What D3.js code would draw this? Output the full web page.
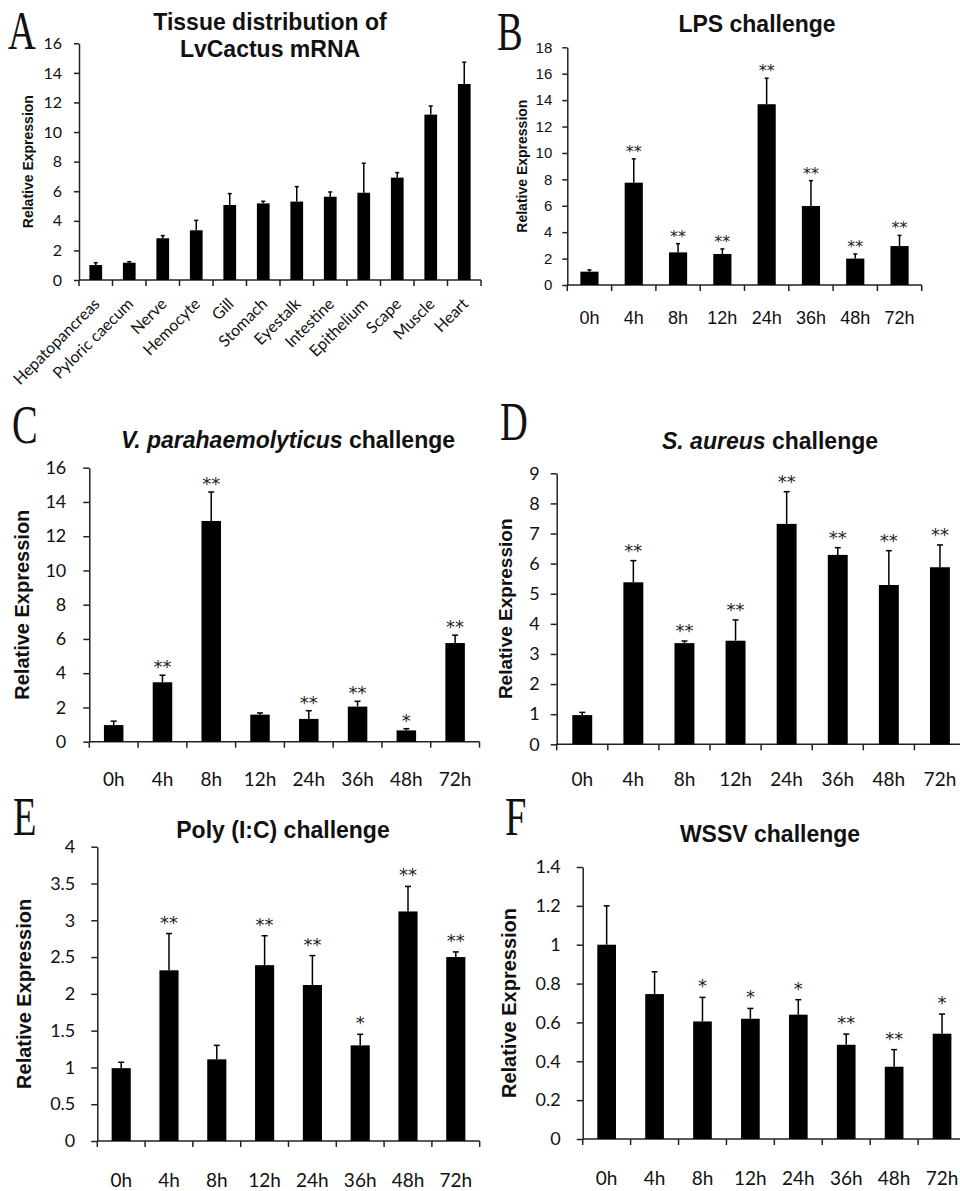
<!DOCTYPE html>
<html>
<head>
<meta charset="utf-8">
<script src="https://cdn.jsdelivr.net/npm/d3@7"></script>
<style>
  body { margin: 0; background: #fff; }
  svg { display: block; }
</style>
</head>
<body>
<script>
// values
const tissues = ["Hepatopancreas","Pyloric caecum","Nerve","Hemocyte","Gill","Stomach","Eyestalk","Intestine","Epithelium","Scape","Muscle","Heart"];
const tissueMean = [1.01,1.17,2.82,3.36,5.07,5.18,5.30,5.63,5.90,6.92,11.18,13.25];
const tissueErr  = [0.16,0.07,0.18,0.67,0.77,0.14,1.01,0.32,1.99,0.34,0.58,1.47];

const hours = ["0h","4h","8h","12h","24h","36h","48h","72h"];

const lpsMean  = [1.01,7.75,2.47,2.35,13.69,5.98,2.00,2.95];
const lpsErr   = [0.13,1.80,0.66,0.38,1.97,1.92,0.35,0.81];
const lpsStars = ["","**","**","**","**","**","**","**"];

const vpMean  = [0.97,3.47,12.89,1.58,1.33,2.05,0.66,5.76];
const vpErr   = [0.23,0.41,1.69,0.10,0.48,0.31,0.10,0.46];
const vpStars = ["","**","**","","**","**","*","**"];

const saMean  = [0.97,5.38,3.36,3.44,7.32,6.29,5.29,5.88];
const saErr   = [0.09,0.72,0.07,0.69,1.07,0.24,1.14,0.74];
const saStars = ["","**","**","**","**","**","**","**"];

const polyMean  = [0.99,2.32,1.11,2.39,2.12,1.30,3.12,2.50];
const polyErr   = [0.08,0.50,0.19,0.40,0.40,0.15,0.34,0.07];
const polyStars = ["","**","","**","**","*","**","**"];

const wssvMean  = [1.00,0.746,0.605,0.619,0.640,0.485,0.372,0.542];
const wssvErr   = [0.20,0.115,0.124,0.053,0.077,0.055,0.088,0.101];
const wssvStars = ["","","*","*","*","**","**","*"];

const ticksA = d3.range(0,17,2);
const ticksB = d3.range(0,19,2);
const ticksC = d3.range(0,17,2);
const ticksD = d3.range(0,10,1);
const ticksE = [0,0.5,1,1.5,2,2.5,3,3.5,4];
const ticksF = [0,0.2,0.4,0.6,0.8,1,1.2,1.4];

const ARIAL = "'Liberation Sans', Arial, sans-serif";
const CALI = "Lato, 'Open Sans', sans-serif";
const SERIF = "'Liberation Serif', 'Times New Roman', serif";
const STAR = "'DejaVu Sans', sans-serif";
const INK = "#111";

const svg = d3.select("body").append("svg")
    .attr("width", 960)
    .attr("height", 1191);

function drawPanel(o, cats, means, errs, stars){
    const g = svg.append("g");

    const x = d3.scaleBand().domain(cats).range([o.x0, o.x1]).padding(0);
    const y = d3.scaleLinear().domain([0, o.max]).range([o.yBase, o.yTop]);
    const bw = x.bandwidth() * o.barRatio;

    // panel letter
    g.append("text")
        .attr("transform", "translate(" + o.letterX + "," + o.letterY + ") scale(0.7,1)")
        .attr("font-family", SERIF)
        .attr("font-size", 55)
        .attr("fill", INK)
        .text(o.letter);

    // title (may be several lines, with italic pieces)
    o.title.forEach(function(line, li){
        const t = g.append("text")
            .attr("x", o.titleX)
            .attr("y", o.titleY + li * 27)
            .attr("text-anchor", "middle")
            .attr("font-family", ARIAL)
            .attr("font-weight", "bold")
            .attr("font-size", 23)
            .attr("fill", INK);
        line.forEach(function(part){
            t.append("tspan")
                .attr("font-style", part.i ? "italic" : "normal")
                .text(part.t);
        });
    });

    // y axis
    const fmt = d => String(+d.toFixed(2));
    g.append("g")
        .attr("transform", "translate(" + o.x0 + ",0)")
        .call(d3.axisLeft(y).tickValues(o.ticks).tickSize(o.tickLen).tickSizeOuter(0)
            .tickPadding(o.tickPad).tickFormat(fmt))
        .call(a => a.selectAll("path,line").attr("stroke", "#222").attr("stroke-width", 1.5))
        .call(a => a.selectAll("text")
            .attr("font-family", o.tickFamily)
            .attr("font-size", o.tickFont)
            .attr("fill", INK));

    // y label
    g.append("text")
        .attr("transform", "translate(" + o.ylabX + "," + ((o.yBase + o.yTop) / 2) + ") rotate(-90)")
        .attr("text-anchor", "middle")
        .attr("font-family", ARIAL)
        .attr("font-weight", "bold")
        .attr("font-size", o.ylabFont)
        .attr("fill", INK)
        .text("Relative Expression");

    // x axis line + boundary ticks
    g.append("line")
        .attr("x1", o.x0).attr("x2", o.x1)
        .attr("y1", o.yBase).attr("y2", o.yBase)
        .attr("stroke", "#222").attr("stroke-width", 1.5);
    const bounds = cats.map(c => x(c)).concat([o.x1]);
    g.selectAll(".xt").data(bounds).enter().append("line")
        .attr("x1", d => d).attr("x2", d => d)
        .attr("y1", o.yBase).attr("y2", o.yBase + 6)
        .attr("stroke", "#222").attr("stroke-width", 1.5);

    // category labels
    const lab = g.selectAll(".cl").data(cats).enter().append("text")
        .attr("font-family", o.catFamily)
        .attr("font-size", o.catFont)
        .attr("fill", INK)
        .text(d => d);
    if(o.rotate){
        lab.attr("text-anchor", "end")
           .attr("transform", d => "translate(" + (x(d) + x.bandwidth()/2 + 5) + "," + (o.yBase + 25) + ") rotate(-45)");
    } else {
        lab.attr("text-anchor", "middle")
           .attr("x", d => x(d) + x.bandwidth()/2)
           .attr("y", o.yBase + o.catDy);
    }

    const rows = cats.map((c,i) => ({c:c, m:means[i], e:errs[i], s:stars ? stars[i] : ""}));

    // bars
    g.selectAll(".bar").data(rows).enter().append("rect")
        .attr("x", d => x(d.c) + (x.bandwidth() - bw)/2)
        .attr("width", bw)
        .attr("y", d => y(d.m))
        .attr("height", d => o.yBase - y(d.m))
        .attr("fill", "#000");

    // error bars (upper half only)
    const eb = g.selectAll(".err").data(rows).enter().append("g")
        .attr("transform", d => "translate(" + (x(d.c) + x.bandwidth()/2) + ",0)");
    eb.append("line")
        .attr("y1", d => y(d.m)).attr("y2", d => y(d.m + d.e))
        .attr("stroke", "#000").attr("stroke-width", 1.5);
    eb.append("line")
        .attr("x1", -o.capW/2).attr("x2", o.capW/2)
        .attr("y1", d => y(d.m + d.e)).attr("y2", d => y(d.m + d.e))
        .attr("stroke", "#000").attr("stroke-width", 1.5);

    // significance stars
    eb.filter(d => d.s).append("text")
        .attr("text-anchor", "middle")
        .attr("y", d => y(d.m + d.e) + o.starDy)
        .attr("font-family", STAR)
        .attr("font-size", o.starFont)
        .attr("fill", "#222")
        .text(d => d.s);
}

drawPanel({
    letter:"A", letterX:8, letterY:49,
    title:[[{t:"Tissue distribution of"}],[{t:"LvCactus mRNA"}]], titleX:270, titleY:30,
    x0:79, x1:481, yTop:43.3, yBase:280, max:16, ticks:ticksA, barRatio:0.38,
    tickLen:5, tickPad:12, tickFamily:CALI, tickFont:16,
    ylabX:33, ylabFont:14,
    rotate:true, catFamily:CALI, catFont:16,
    capW:4, starFont:16, starDy:3
}, tissues, tissueMean, tissueErr, null);

drawPanel({
    letter:"B", letterX:497, letterY:50,
    title:[[{t:"LPS challenge"}]], titleX:757, titleY:32,
    x0:567.3, x1:921.7, yTop:47.3, yBase:285, max:18, ticks:ticksB, barRatio:0.41,
    tickLen:5, tickPad:10, tickFamily:ARIAL, tickFont:15,
    ylabX:527, ylabFont:14,
    rotate:false, catFamily:ARIAL, catFont:18, catDy:39,
    capW:4, starFont:16, starDy:-2
}, hours, lpsMean, lpsErr, lpsStars);

drawPanel({
    letter:"C", letterX:12, letterY:443,
    title:[[{t:"V. parahaemolyticus", i:true},{t:" challenge"}]], titleX:288, titleY:448,
    x0:89.3, x1:479.5, yTop:467.7, yBase:741.7, max:16, ticks:ticksC, barRatio:0.40,
    tickLen:6, tickPad:17, tickFamily:CALI, tickFont:18,
    ylabX:29, ylabFont:20,
    rotate:false, catFamily:CALI, catFont:19, catDy:44,
    capW:6, starFont:18, starDy:-2
}, hours, vpMean, vpErr, vpStars);

drawPanel({
    letter:"D", letterX:500, letterY:440,
    title:[[{t:"S. aureus", i:true},{t:" challenge"}]], titleX:770, titleY:449,
    x0:556.7, x1:965.5, yTop:473.3, yBase:744.3, max:9, ticks:ticksD, barRatio:0.39,
    tickLen:6, tickPad:11, tickFamily:CALI, tickFont:18,
    ylabX:512, ylabFont:19,
    rotate:false, catFamily:CALI, catFont:19, catDy:42,
    capW:6, starFont:18, starDy:-4
}, hours, saMean, saErr, saStars);

drawPanel({
    letter:"E", letterX:13, letterY:835,
    title:[[{t:"Poly (I:C) challenge"}]], titleX:283, titleY:838,
    x0:97.3, x1:479.7, yTop:846.7, yBase:1141, max:4, ticks:ticksE, barRatio:0.40,
    tickLen:6, tickPad:16, tickFamily:CALI, tickFont:18,
    ylabX:31, ylabFont:20,
    rotate:false, catFamily:CALI, catFont:19, catDy:46,
    capW:6, starFont:18, starDy:-5
}, hours, polyMean, polyErr, polyStars);

drawPanel({
    letter:"F", letterX:505, letterY:835,
    title:[[{t:"WSSV challenge"}]], titleX:770, titleY:842,
    x0:582.7, x1:966, yTop:867, yBase:1139, max:1.4, ticks:ticksF, barRatio:0.39,
    tickLen:6, tickPad:16, tickFamily:CALI, tickFont:18,
    ylabX:516, ylabFont:20,
    rotate:false, catFamily:CALI, catFont:19, catDy:46,
    capW:6, starFont:18, starDy:-5
}, hours, wssvMean, wssvErr, wssvStars);
</script>
</body>
</html>
